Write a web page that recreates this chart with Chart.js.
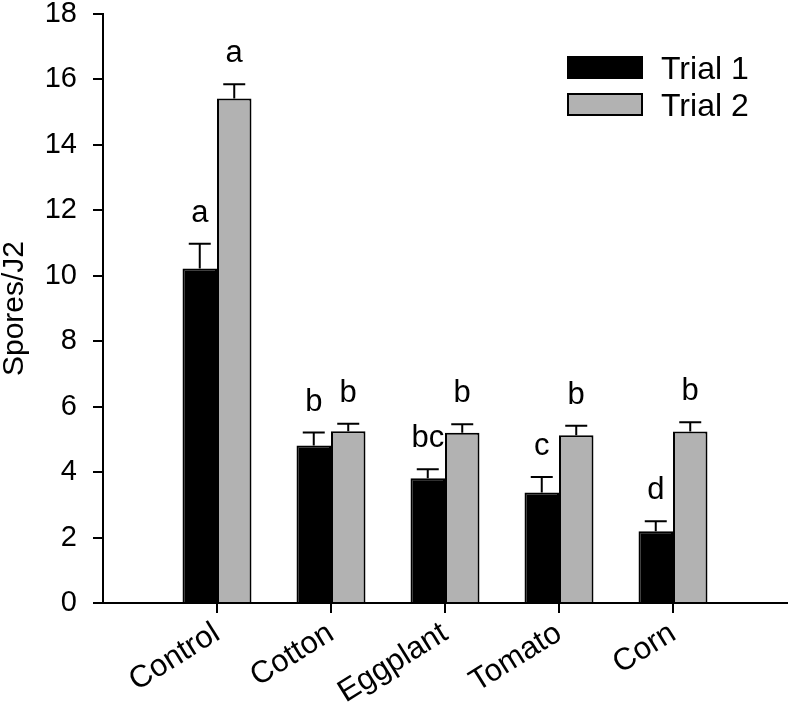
<!DOCTYPE html>
<html>
<head>
<meta charset="utf-8">
<title>Spores/J2</title>
<script src="https://cdn.jsdelivr.net/npm/chart.js@4/dist/chart.umd.min.js"></script>
<style>
  html, body { margin: 0; padding: 0; background: #fff; }
  #wrap { width: 789px; height: 703px; }
</style>
</head>
<body>
<div id="wrap"><canvas id="chart"></canvas></div>
<script>
/* === Data === */
const crops        = ['Control', 'Cotton', 'Eggplant', 'Tomato', 'Corn'];
const trial1       = [10.22, 4.81, 3.81, 3.38, 2.19];
const trial1Err    = [0.76, 0.40, 0.28, 0.47, 0.31];
const trial1Letter = ['a', 'b', 'bc', 'c', 'd'];
const trial2       = [15.42, 5.25, 5.20, 5.13, 5.24];
const trial2Err    = [0.43, 0.23, 0.26, 0.29, 0.28];
const trial2Letter = ['a', 'b', 'b', 'b', 'b'];
const yMin = 0, yMax = 18, yStep = 2;

/* empty slot at each end so the axis runs past the first and last group */
const pad = arr => [null, ...arr, null];
const labels = ['', ...crops, ''];

const FONT = '"Liberation Sans", Arial, sans-serif';

/* === Error bars + letters === */
const errorBars = {
  id: 'errorBars',
  afterDatasetsDraw(chart) {
    const c = chart.ctx;
    const y = chart.scales.y;
    chart.data.datasets.forEach((ds, di) => {
      const meta = chart.getDatasetMeta(di);
      meta.data.forEach((bar, i) => {
        const v = ds.data[i];
        if (v == null) return;
        const top = y.getPixelForValue(v + ds.err[i]);
        c.save();
        c.strokeStyle = '#000';
        c.lineWidth = 2;
        c.beginPath();
        c.moveTo(bar.x, bar.y);
        c.lineTo(bar.x, top);
        c.moveTo(bar.x - 11, top);
        c.lineTo(bar.x + 11, top);
        c.stroke();
        c.fillStyle = '#000';
        c.font = '31px ' + FONT;
        c.textAlign = 'center';
        c.textBaseline = 'alphabetic';
        c.fillText(ds.letters[i], bar.x, top - 22);
        c.restore();
      });
    });
  }
};

/* === Legend (top right, inside plot) === */
const boxLegend = {
  id: 'boxLegend',
  afterDraw(chart) {
    const c = chart.ctx;
    const x0 = 568, y0 = 57, rowH = 37;
    chart.data.datasets.forEach((ds, i) => {
      const yy = y0 + i * rowH;
      c.save();
      c.fillStyle = ds.backgroundColor;
      c.fillRect(x0, yy, 74, 21);
      c.strokeStyle = '#000';
      c.lineWidth = 2;
      c.strokeRect(x0, yy, 74, 21);
      c.fillStyle = '#000';
      c.font = '32px ' + FONT;
      c.textAlign = 'left';
      c.textBaseline = 'alphabetic';
      c.fillText(ds.label, 661, yy + 22);
      c.restore();
    });
  }
};

/* === Chart === */
new Chart(document.getElementById('chart'), {
  type: 'bar',
  data: {
    labels: labels,
    datasets: [
      {
        label: 'Trial 1',
        data: pad(trial1),
        err: pad(trial1Err),
        letters: pad(trial1Letter),
        backgroundColor: '#000000',
        borderColor: '#000000',
        borderWidth: 2
      },
      {
        label: 'Trial 2',
        data: pad(trial2),
        err: pad(trial2Err),
        letters: pad(trial2Letter),
        backgroundColor: '#b2b2b2',
        borderColor: '#000000',
        borderWidth: 2
      }
    ]
  },
  options: {
    responsive: true,
    maintainAspectRatio: false,
    animation: false,
    layout: { padding: { top: 14, right: 2, left: 0, bottom: 0 } },
    datasets: { bar: { categoryPercentage: 0.605, barPercentage: 1 } },
    plugins: {
      legend: { display: false },
      tooltip: { enabled: false }
    },
    scales: {
      x: {
        offset: false,
        afterFit: s => { s.height = 100; s.paddingLeft = 0; s.paddingRight = 0; },
        border: { display: true, color: '#000', width: 2 },
        grid: {
          display: true,
          offset: false,
          drawOnChartArea: false,
          drawTicks: true,
          tickLength: 10,
          lineWidth: 2,
          tickColor: ctx => (ctx.index === 0 || ctx.index === labels.length - 1) ? 'rgba(0,0,0,0)' : '#000'
        },
        ticks: {
          autoSkip: false,
          minRotation: 32,
          maxRotation: 32,
          padding: 2,
          color: '#000',
          font: { family: FONT, size: 31 }
        }
      },
      y: {
        min: yMin,
        max: yMax,
        afterFit: s => { s.width = 103; s.paddingTop = 0; s.paddingBottom = 0; },
        border: { display: true, color: '#000', width: 2 },
        grid: {
          display: true,
          drawOnChartArea: false,
          drawTicks: true,
          tickLength: 10,
          lineWidth: 2,
          color: '#000'
        },
        ticks: {
          stepSize: yStep,
          padding: 16,
          color: '#000',
          font: { family: FONT, size: 29, lineHeight: 1 }
        },
        title: {
          display: true,
          text: 'Spores/J2',
          color: '#000',
          padding: 0,
          font: { family: FONT, size: 30, lineHeight: 1 }
        }
      }
    }
  },
  plugins: [errorBars, boxLegend]
});
</script>
</body>
</html>
